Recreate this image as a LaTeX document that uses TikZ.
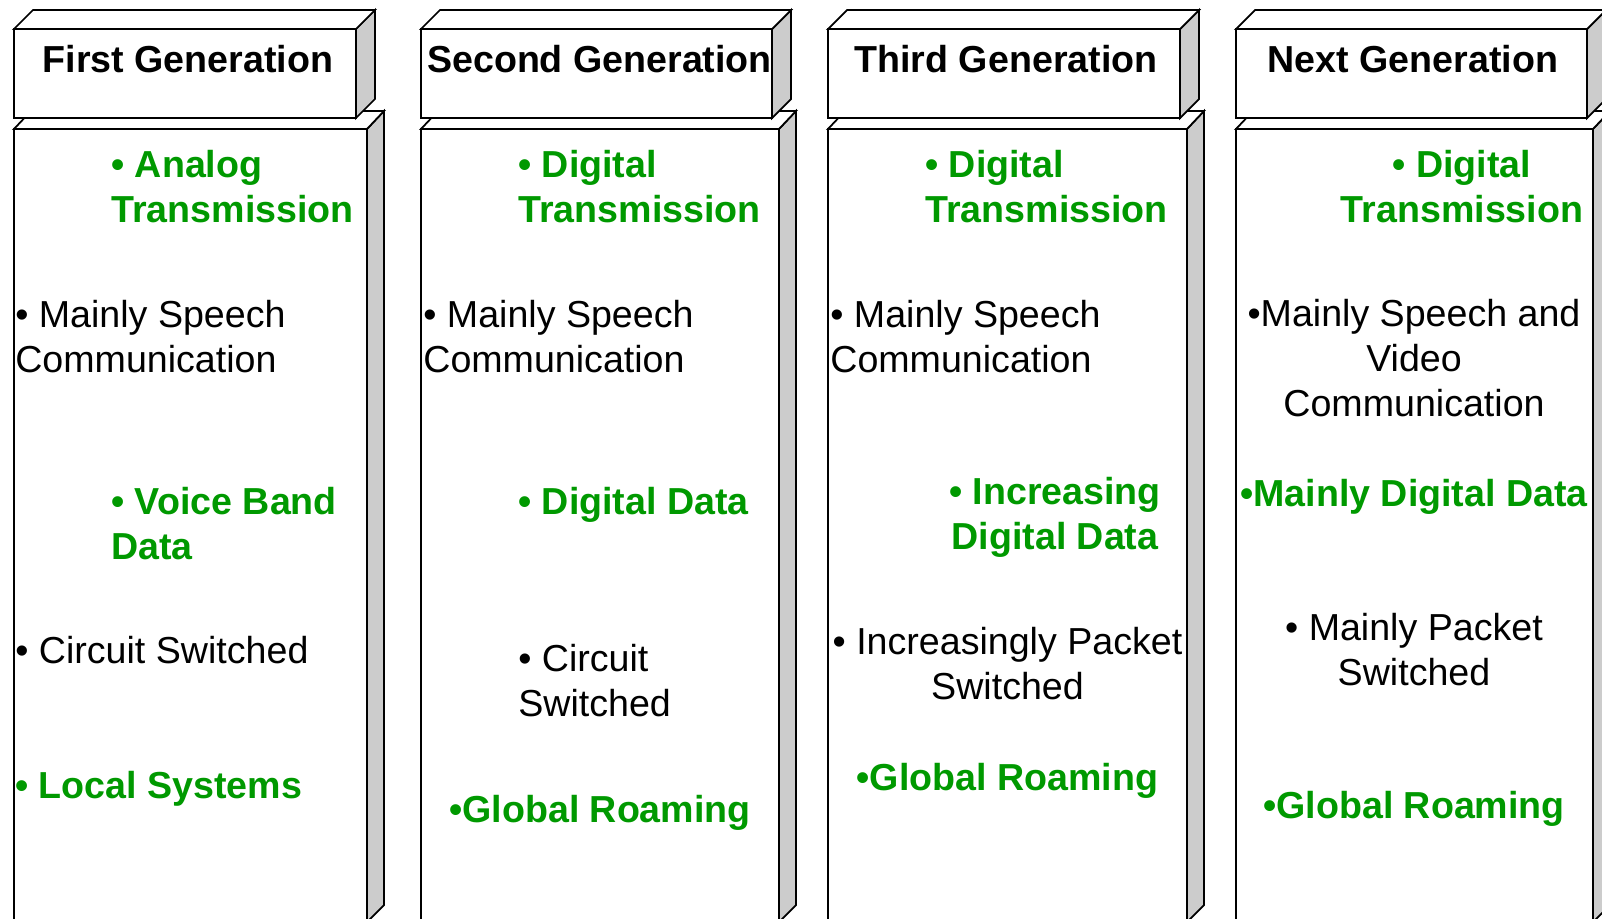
\documentclass[tikz,border=0pt]{standalone}
\usepackage{fontspec}
\setmainfont{Liberation Sans}
\usetikzlibrary{positioning}
\definecolor{gengreen}{RGB}{0,153,0}

\begin{document}
\begin{tikzpicture}[x=0.02cm,y=-0.02cm,
   face/.style={draw=black,line width=1pt,fill=white},
   side/.style={face,fill=black!20},
   title/.style={inner sep=0pt,anchor=base,font=\fontsize{21.4}{25.5}\selectfont\bfseries},
   plain/.style={inner sep=0pt,font=\fontsize{21.4}{25.5}\selectfont},
   hilite/.style={plain,text=gengreen,font=\fontsize{21.4}{25.5}\selectfont\bfseries}
  ]
\useasboundingbox (0,0) rectangle (1602,919);
\clip (0,0) rectangle (1602,919);

% the four slabs: left edge / header right / body right
\foreach \a/\b/\c in {14/356/367, 421/772/779, 828/1180/1187, 1236/1587/1593}{
  % body
  \draw[side] (\c,129) -- (\c+17,111) -- (\c+17,905) -- (\c,922) -- cycle;
  \draw[face] (\a,129) -- (\a+17,111) -- (\c+17,111) -- (\c,129) -- cycle;
  \draw[face] (\a,129) rectangle (\c,930);
  % header
  \draw[side] (\b,29) -- (\b+19,10) -- (\b+19,99) -- (\b,118) -- cycle;
  \draw[face] (\a,29) -- (\a+19,10) -- (\b+19,10) -- (\b,29) -- cycle;
  \draw[face] (\a,29) rectangle (\b,118);
}

% headers
\node[title] (g1) at (188,73) {First Generation};
\node[title] (g2) at (599.5,73) {Second Generation};
\node[title] (g3) at (1006,73) {Third Generation};
\node[title] (g4) at (1413,73) {Next Generation};

% first generation (base = last line)
\node[hilite,anchor=base west,align=left] (g1a) at (111,222) {• Analog\\Transmission};
\node[plain,anchor=base west,align=left] (g1b) at (15,372) {• Mainly Speech\\Communication};
\node[hilite,anchor=base west,align=left] (g1c) at (111,559) {• Voice Band\\Data};
\node[plain,anchor=base west] (g1d) at (15,663) {• Circuit Switched};
\node[hilite,anchor=base west] (g1e) at (15,798) {• Local Systems};

% second generation
\node[hilite,anchor=base west,align=left] (g2a) at (518,222) {• Digital\\Transmission};
\node[plain,anchor=base west,align=left] (g2b) at (423,372) {• Mainly Speech\\Communication};
\node[hilite,anchor=base west] (g2c) at (518,514) {• Digital Data};
\node[plain,anchor=base west,align=left] (g2d) at (518,716) {• Circuit\\Switched};
\node[hilite,anchor=base] (g2e) at (600,822) {•Global Roaming};

% third generation
\node[hilite,anchor=base west,align=left] (g3a) at (925,222) {• Digital\\Transmission};
\node[plain,anchor=base west,align=left] (g3b) at (830,372) {• Mainly Speech\\Communication};
\node[hilite,anchor=base,align=center] (g3c) at (1055,549) {• Increasing\\Digital Data};
\node[plain,anchor=base,align=center] (g3d) at (1007.5,699) {• Increasingly Packet\\Switched};
\node[hilite,anchor=base] (g3e) at (1007.5,790) {•Global Roaming};

% next generation
\node[hilite,anchor=base,align=center] (g4a) at (1462,222) {• Digital\\Transmission};
\node[plain,anchor=base,align=center] (g4b) at (1414,416) {•Mainly Speech and\\Video\\Communication};
\node[hilite,anchor=base] (g4c) at (1414,506) {•Mainly Digital Data};
\node[plain,anchor=base,align=center] (g4d) at (1414,685) {• Mainly Packet\\Switched};
\node[hilite,anchor=base] (g4e) at (1414,818) {•Global Roaming};

\end{tikzpicture}
\end{document}
